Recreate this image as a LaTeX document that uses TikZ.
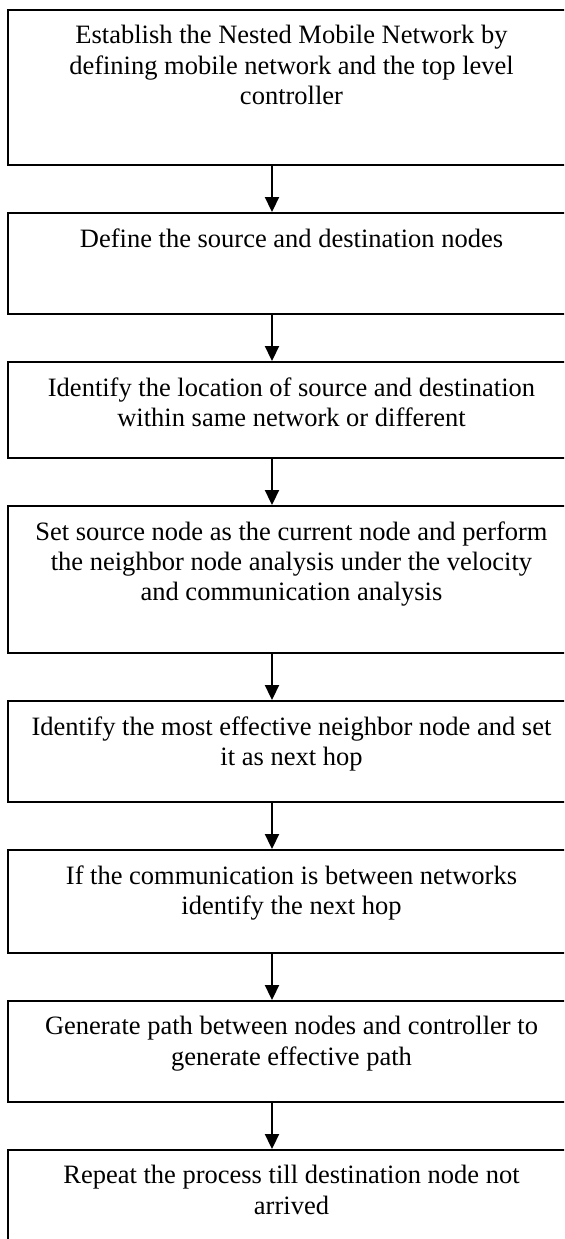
\documentclass[tikz,border=0pt]{standalone}
\usepackage{fontspec}
\setmainfont{Liberation Serif}
\usetikzlibrary{arrows.meta,positioning}

\begin{document}
\begin{tikzpicture}[
  x=0.5pt,y=0.5pt,
  node distance=23pt,
  stepbox/.style={rectangle,draw=black,line width=1pt,minimum width=283.5pt,inner sep=0pt},
  steptext/.style={inner sep=0pt,align=center,font=\fontsize{13.25}{15.2}\selectfont},
  arr/.style={-{Triangle[length=7.5pt,width=7pt]},line width=1.1pt}
]
  \useasboundingbox (0,0) rectangle (564,-1239);
  \clip (0,0) rectangle (564,-1239);
  \coordinate (ax) at (272,0);

  \node[stepbox,minimum height=77.5pt,anchor=north] (b1) at (291.5,-9) {};
  \node[stepbox,minimum height=50.5pt,below=of b1] (b2) {};
  \node[stepbox,minimum height=48pt,below=of b2] (b3) {};
  \node[stepbox,minimum height=73.5pt,below=of b3] (b4) {};
  \node[stepbox,minimum height=50.5pt,below=of b4] (b5) {};
  \node[stepbox,minimum height=51.5pt,below=of b5] (b6) {};
  \node[stepbox,minimum height=50.5pt,below=of b6] (b7) {};
  \node[stepbox,minimum height=75pt,below=of b7] (b8) {};

  \node[steptext,below=8pt of b1.north] (t1) {Establish the Nested Mobile Network by\\defining mobile network and the top level\\controller};
  \node[steptext,below=8pt of b2.north] (t2) {Define the source and destination nodes};
  \node[steptext,below=8pt of b3.north] (t3) {Identify the location of source and destination\\within same network or different};
  \node[steptext,below=8pt of b4.north] (t4) {Set source node as the current node and perform\\the neighbor node analysis under the velocity\\and communication analysis};
  \node[steptext,below=8pt of b5.north] (t5) {Identify the most effective neighbor node and set\\it as next hop};
  \node[steptext,below=8pt of b6.north] (t6) {If the communication is between networks\\identify the next hop};
  \node[steptext,below=8pt of b7.north] (t7) {Generate path between nodes and controller to\\generate effective path};
  \node[steptext,below=8pt of b8.north] (t8) {Repeat the process till destination node not\\arrived};

  \draw[arr] (b1.south -| ax) -- (b2.north -| ax);
  \draw[arr] (b2.south -| ax) -- (b3.north -| ax);
  \draw[arr] (b3.south -| ax) -- (b4.north -| ax);
  \draw[arr] (b4.south -| ax) -- (b5.north -| ax);
  \draw[arr] (b5.south -| ax) -- (b6.north -| ax);
  \draw[arr] (b6.south -| ax) -- (b7.north -| ax);
  \draw[arr] (b7.south -| ax) -- (b8.north -| ax);
\end{tikzpicture}
\end{document}
